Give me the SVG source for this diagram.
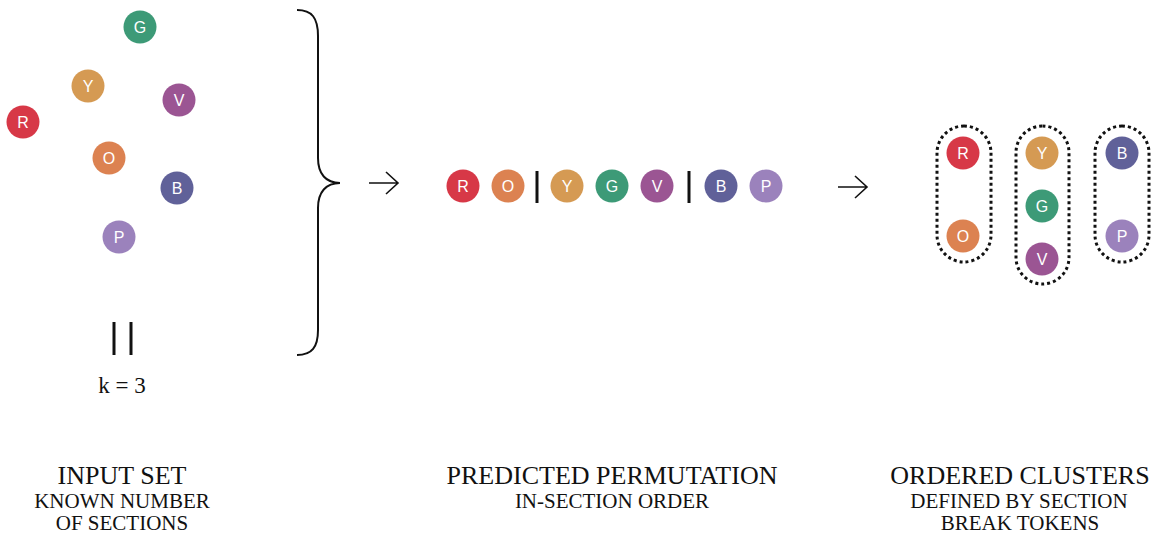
<svg xmlns="http://www.w3.org/2000/svg" width="1156" height="535" viewBox="0 0 1156 535">
  <style>
    .tok text { font-family: "Liberation Sans", Arial, sans-serif; font-size: 16px; fill: #ffffff; text-anchor: middle; dominant-baseline: central; }
    .r { fill: #D73847; }
    .o { fill: #DC8251; }
    .y { fill: #D59A53; }
    .g { fill: #3D9A77; }
    .v { fill: #9B5593; }
    .b { fill: #606199; }
    .p { fill: #9B82BC; }
    .line { stroke: #111111; fill: none; }
    .bar { stroke: #111111; stroke-width: 3; }
    .pill { fill: none; stroke: #111111; stroke-width: 3; stroke-dasharray: 3 3; }
    .serif { font-family: "Liberation Serif", "Times New Roman", serif; fill: #111111; text-anchor: middle; }
    .title { font-size: 26px; }
    .sub { font-size: 21px; }
  </style>
  <defs>
    <circle id="dot" r="16.5"/>
  </defs>

  <rect width="1156" height="535" fill="#ffffff"/>

  <!-- Input set: scattered tokens -->
  <g id="input-set" class="tok">
    <g id="in-G"><use href="#dot" x="140" y="27" class="g"/><text x="140" y="27">G</text></g>
    <g id="in-Y"><use href="#dot" x="88" y="86" class="y"/><text x="88" y="86">Y</text></g>
    <g id="in-V"><use href="#dot" x="179" y="100" class="v"/><text x="179" y="100">V</text></g>
    <g id="in-R"><use href="#dot" x="23" y="122" class="r"/><text x="23" y="122">R</text></g>
    <g id="in-O"><use href="#dot" x="109" y="158" class="o"/><text x="109" y="158">O</text></g>
    <g id="in-B"><use href="#dot" x="177" y="188" class="b"/><text x="177" y="188">B</text></g>
    <g id="in-P"><use href="#dot" x="119" y="237" class="p"/><text x="119" y="237">P</text></g>
  </g>

  <!-- Cardinality marker -->
  <g id="cardinality">
    <line class="bar" x1="114" y1="322" x2="114" y2="355" stroke-width="2.5"/>
    <line class="bar" x1="131" y1="322" x2="131" y2="355" stroke-width="2.5"/>
    <text class="serif" x="122" y="393" font-size="23">k = 3</text>
  </g>

  <!-- Curly brace -->
  <path id="brace" class="line" stroke-width="2" d="M297 10 C312 10 318 18 318 36 L318 158 C318 174 326 183 340 183 C326 183 318 192 318 208 L318 330 C318 347 312 355 297 355"/>

  <!-- Connectors -->
  <g id="connectors" class="line" stroke-width="1.6">
    <path d="M369 183 H398 M386 172 L398 183 L386 194"/>
    <path d="M838 187 H867 M855 176 L867 187 L855 198"/>
  </g>

  <!-- Predicted permutation -->
  <g id="permutation" class="tok">
    <g id="seq-R"><use href="#dot" x="463" y="186" class="r"/><text x="463" y="186">R</text></g>
    <g id="seq-O"><use href="#dot" x="508" y="186" class="o"/><text x="508" y="186">O</text></g>
    <line class="bar" x1="537" y1="171" x2="537" y2="203"/>
    <g id="seq-Y"><use href="#dot" x="567" y="186" class="y"/><text x="567" y="186">Y</text></g>
    <g id="seq-G"><use href="#dot" x="612" y="186" class="g"/><text x="612" y="186">G</text></g>
    <g id="seq-V"><use href="#dot" x="657" y="186" class="v"/><text x="657" y="186">V</text></g>
    <line class="bar" x1="689" y1="171" x2="689" y2="203"/>
    <g id="seq-B"><use href="#dot" x="721" y="186" class="b"/><text x="721" y="186">B</text></g>
    <g id="seq-P"><use href="#dot" x="766" y="186" class="p"/><text x="766" y="186">P</text></g>
  </g>

  <!-- Ordered clusters -->
  <g id="cluster-1" class="tok">
    <rect class="pill" x="937" y="126" width="54" height="136" rx="27"/>
    <use href="#dot" x="963" y="153" class="r"/><text x="963" y="153">R</text>
    <use href="#dot" x="963" y="236" class="o"/><text x="963" y="236">O</text>
  </g>
  <g id="cluster-2" class="tok">
    <rect class="pill" x="1016" y="126" width="53" height="158" rx="26.5"/>
    <use href="#dot" x="1042" y="153" class="y"/><text x="1042" y="153">Y</text>
    <use href="#dot" x="1042" y="206" class="g"/><text x="1042" y="206">G</text>
    <use href="#dot" x="1042" y="259" class="v"/><text x="1042" y="259">V</text>
  </g>
  <g id="cluster-3" class="tok">
    <rect class="pill" x="1095" y="126" width="54" height="136" rx="27"/>
    <use href="#dot" x="1122" y="153" class="b"/><text x="1122" y="153">B</text>
    <use href="#dot" x="1122" y="236" class="p"/><text x="1122" y="236">P</text>
  </g>

  <!-- Captions -->
  <g id="captions" class="serif">
    <text class="title" x="122" y="484">INPUT SET</text>
    <text class="sub" x="122" y="508">KNOWN NUMBER</text>
    <text class="sub" x="122" y="530">OF SECTIONS</text>
    <text class="title" x="612" y="484">PREDICTED PERMUTATION</text>
    <text class="sub" x="612" y="508">IN-SECTION ORDER</text>
    <text class="title" x="1020" y="484">ORDERED CLUSTERS</text>
    <text class="sub" x="1019" y="508">DEFINED BY SECTION</text>
    <text class="sub" x="1020" y="530">BREAK TOKENS</text>
  </g>
</svg>
